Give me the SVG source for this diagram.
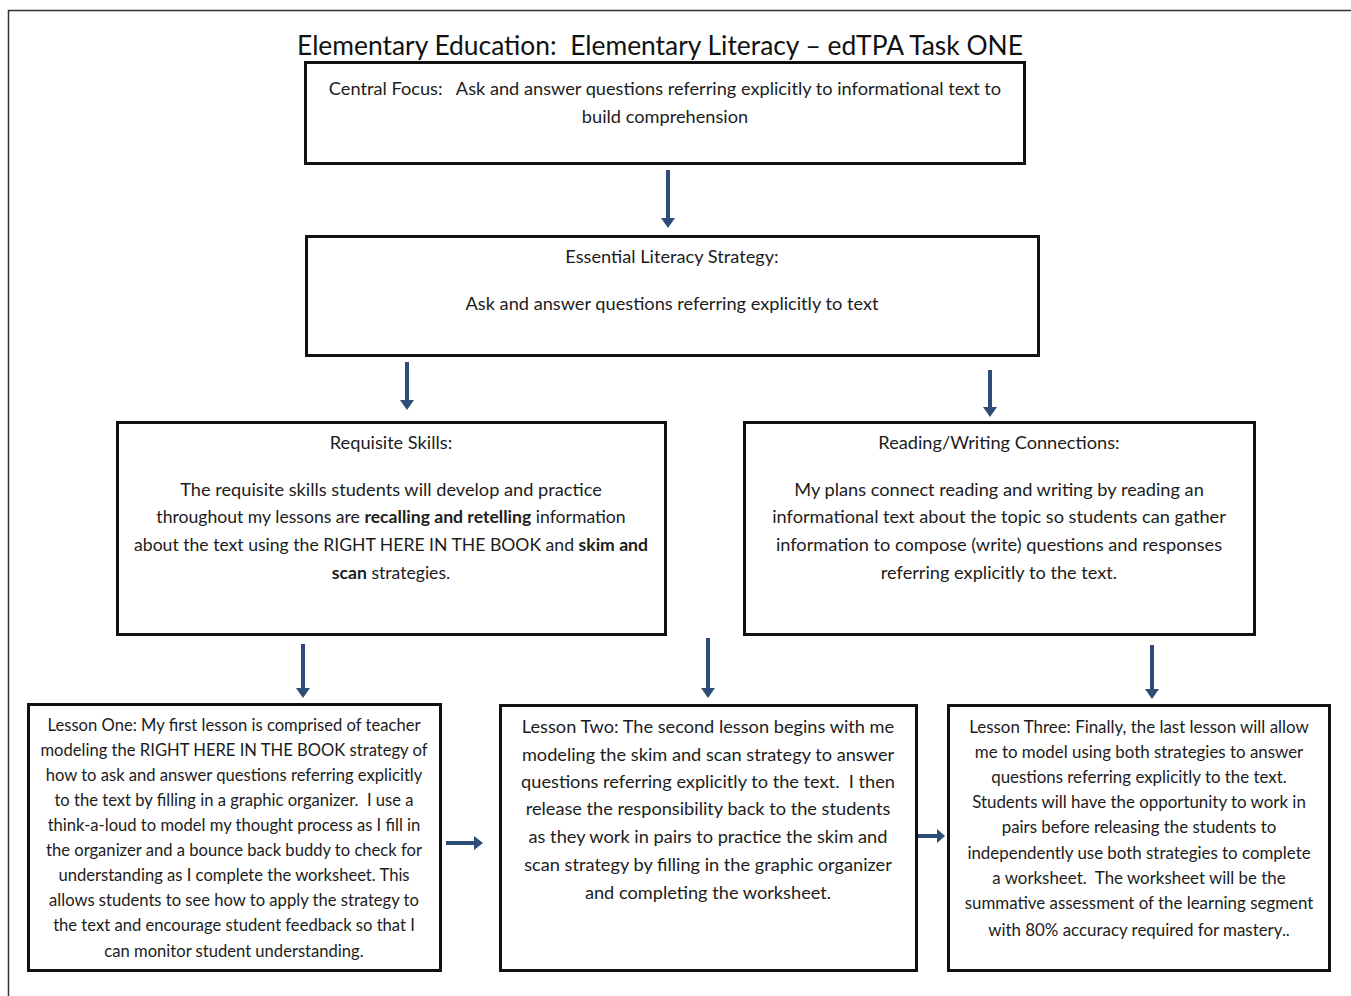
<svg xmlns="http://www.w3.org/2000/svg" width="1351" height="996" viewBox="0 0 1351 996">
<style>
.box{fill:#fff;stroke:#111;stroke-width:3}
text{font-family:Lato,"Liberation Sans",sans-serif;fill:#1c1c1c;text-anchor:middle;white-space:pre}
.t{font-size:18.2px}
.tb{font-size:17.6px}
.l1{font-size:16.6px}
.l3{font-size:16.9px}
.title{font-size:26.4px;fill:#111}
.arr{fill:#2d4d78}
.b{font-weight:bold}
</style>
<rect width="1351" height="996" fill="#fff"/>
<path d="M8.5 996 V10.5 H1351" fill="none" stroke="#333" stroke-width="1.5"/>
<text class="title" x="660" y="55">Elementary Education:  Elementary Literacy – edTPA Task ONE</text>

<g id="connectors">
  <path class="arr" d="M666 170h4v48h5l-7 10l-7-10h5z"/>
  <path class="arr" d="M405 362h4v38h5l-7 10l-7-10h5z"/>
  <path class="arr" d="M988 370h4v37h5l-7 10l-7-10h5z"/>
  <path class="arr" d="M301 644h4v44h5l-7 10l-7-10h5z"/>
  <path class="arr" d="M706 638h4v50h5l-7 10l-7-10h5z"/>
  <path class="arr" d="M1150 645h4v44h5l-7 10l-7-10h5z"/>
  <path class="arr" d="M446 841h28v-5l9 7l-9 7v-5h-28z"/>
  <path class="arr" d="M918 834h19v-5l8 7l-8 7v-5h-19z"/>
</g>

<g id="central-focus">
  <rect class="box" x="305.5" y="62.5" width="719" height="101"/>
  <text class="t" x="665" y="95">Central Focus:   Ask and answer questions referring explicitly to informational text to</text>
  <text class="t" x="665" y="123">build comprehension</text>
</g>

<g id="essential-strategy">
  <rect class="box" x="306.5" y="236.5" width="732" height="119"/>
  <text class="t" x="672" y="263">Essential Literacy Strategy:</text>
  <text class="t" x="672" y="310">Ask and answer questions referring explicitly to text</text>
</g>

<g id="requisite-skills">
  <rect class="box" x="117.5" y="422.5" width="548" height="212"/>
  <text class="t" x="391" y="449">Requisite Skills:</text>
  <text class="t" x="391" y="496">The requisite skills students will develop and practice</text>
  <text class="tb" x="391" y="523">throughout my lessons are <tspan class="b">recalling and retelling</tspan> information</text>
  <text class="tb" x="391" y="551">about the text using the RIGHT HERE IN THE BOOK and <tspan class="b">skim and</tspan></text>
  <text class="tb" x="391" y="579"><tspan class="b">scan</tspan> strategies.</text>
</g>

<g id="reading-writing">
  <rect class="box" x="744.5" y="422.5" width="510" height="212"/>
  <text class="t" x="999" y="449">Reading/Writing Connections:</text>
  <text class="t" x="999" y="496">My plans connect reading and writing by reading an</text>
  <text class="t" x="999" y="523">informational text about the topic so students can gather</text>
  <text class="t" x="999" y="551">information to compose (write) questions and responses</text>
  <text class="t" x="999" y="579">referring explicitly to the text.</text>
</g>

<g id="lesson-one">
  <rect class="box" x="28.5" y="704.5" width="412" height="266"/>
  <text class="l1" x="234" y="731">Lesson One: My first lesson is comprised of teacher</text>
  <text class="l1" x="234" y="756">modeling the RIGHT HERE IN THE BOOK strategy of</text>
  <text class="l1" x="234" y="781">how to ask and answer questions referring explicitly</text>
  <text class="l1" x="234" y="806">to the text by filling in a graphic organizer.  I use a</text>
  <text class="l1" x="234" y="831">think-a-loud to model my thought process as I fill in</text>
  <text class="l1" x="234" y="856">the organizer and a bounce back buddy to check for</text>
  <text class="l1" x="234" y="881">understanding as I complete the worksheet. This</text>
  <text class="l1" x="234" y="906">allows students to see how to apply the strategy to</text>
  <text class="l1" x="234" y="931">the text and encourage student feedback so that I</text>
  <text class="l1" x="234" y="957">can monitor student understanding.</text>
</g>

<g id="lesson-two">
  <rect class="box" x="500.5" y="705.5" width="416" height="265"/>
  <text class="t" x="708" y="733">Lesson Two: The second lesson begins with me</text>
  <text class="t" x="708" y="761">modeling the skim and scan strategy to answer</text>
  <text class="t" x="708" y="788">questions referring explicitly to the text.  I then</text>
  <text class="t" x="708" y="815">release the responsibility back to the students</text>
  <text class="t" x="708" y="843">as they work in pairs to practice the skim and</text>
  <text class="t" x="708" y="871">scan strategy by filling in the graphic organizer</text>
  <text class="t" x="708" y="899">and completing the worksheet.</text>
</g>

<g id="lesson-three">
  <rect class="box" x="948.5" y="705.5" width="381" height="265"/>
  <text class="l3" x="1139" y="733">Lesson Three: Finally, the last lesson will allow</text>
  <text class="l3" x="1139" y="758">me to model using both strategies to answer</text>
  <text class="l3" x="1139" y="783">questions referring explicitly to the text.</text>
  <text class="l3" x="1139" y="808">Students will have the opportunity to work in</text>
  <text class="l3" x="1139" y="833">pairs before releasing the students to</text>
  <text class="l3" x="1139" y="859">independently use both strategies to complete</text>
  <text class="l3" x="1139" y="884">a worksheet.  The worksheet will be the</text>
  <text class="l3" x="1139" y="909">summative assessment of the learning segment</text>
  <text class="l3" x="1139" y="936">with 80% accuracy required for mastery..</text>
</g>
</svg>
